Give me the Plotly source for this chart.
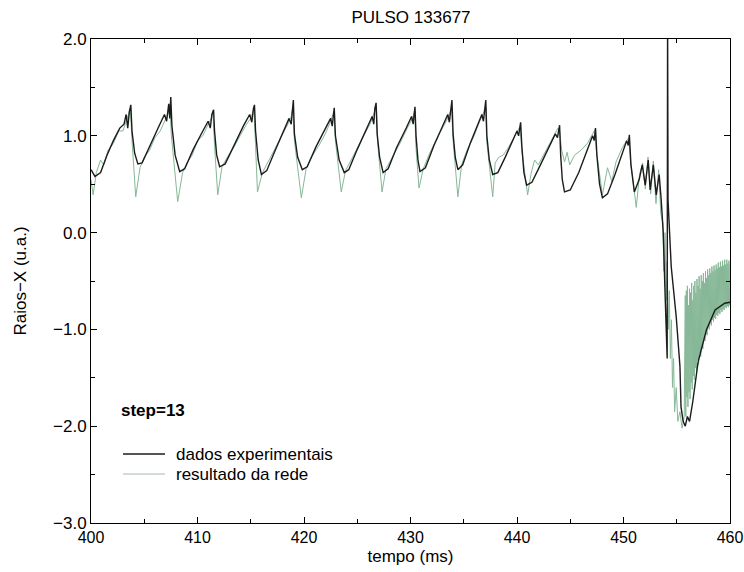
import plotly.graph_objects as go

# ---------------- data ----------------
t_exp = [400.0, 400.37, 400.9, 401.5, 402.1, 402.7, 403.1, 403.3, 403.45, 403.6, 403.74, 403.85,
         404.1, 404.4, 404.8, 405.5, 406.3, 406.9, 407.1, 407.3, 407.4, 407.49, 407.6,
         407.9, 408.33, 408.8, 409.6, 410.5, 411.0, 411.2, 411.35, 411.51, 411.6,
         411.8, 412.08, 412.6, 413.4, 414.3, 414.9, 415.1, 415.25, 415.35, 415.45,
         415.7, 416.0, 416.5, 417.3, 418.2, 418.6, 418.8, 418.9, 419.0, 419.1,
         419.4, 419.84, 420.3, 421.1, 422.0, 422.5, 422.65, 422.75, 422.84, 422.95,
         423.3, 423.78, 424.2, 425.0, 425.9, 426.4, 426.55, 426.65, 426.77, 426.87,
         427.1, 427.43, 427.9, 428.7, 429.6, 430.1, 430.25, 430.35, 430.42, 430.52,
         430.7, 430.89, 431.4, 432.2, 433.0, 433.5, 433.65, 433.78, 433.89, 434.0,
         434.2, 434.45, 434.9, 435.6, 436.3, 436.7, 436.85, 436.97, 437.07, 437.17,
         437.4, 437.72, 438.2, 438.9, 439.6, 440.0, 440.15, 440.25, 440.34, 440.45,
         440.65, 440.9, 441.4, 442.2, 443.0, 443.6, 443.8, 443.9, 444.0, 444.1,
         444.25, 444.46, 445.0, 445.8, 446.6, 447.1, 447.25, 447.37, 447.5,
         447.75, 448.02, 448.5, 449.2, 449.9, 450.3, 450.45, 450.55, 450.7,
         451.02, 451.48, 451.76, 452.04, 452.32, 452.5, 452.8, 453.07, 453.35, 453.54,
         453.73, 453.92, 454.1, 454.14, 454.18,
         454.48, 454.95, 455.3, 455.4, 455.6, 455.8, 456.0, 456.2, 456.5, 457.0, 457.3,
         457.8, 458.6, 459.5, 460.0]
v_exp = [0.65, 0.58, 0.62, 0.80, 0.95, 1.08, 1.12, 1.22, 1.08, 1.25, 1.32, 1.05,
         0.82, 0.71, 0.72, 0.88, 1.08, 1.22, 1.15, 1.33, 1.18, 1.40, 1.10,
         0.80, 0.63, 0.66, 0.86, 1.05, 1.15, 1.08, 1.22, 1.27, 1.05,
         0.80, 0.68, 0.71, 0.90, 1.10, 1.22, 1.14, 1.28, 1.32, 1.05,
         0.75, 0.60, 0.64, 0.85, 1.08, 1.18, 1.12, 1.30, 1.37, 1.02,
         0.78, 0.65, 0.68, 0.88, 1.08, 1.18, 1.10, 1.25, 1.29, 1.00,
         0.75, 0.62, 0.65, 0.86, 1.08, 1.20, 1.12, 1.28, 1.34, 1.02,
         0.78, 0.62, 0.66, 0.88, 1.08, 1.20, 1.12, 1.26, 1.30, 1.00,
         0.75, 0.63, 0.67, 0.90, 1.10, 1.22, 1.14, 1.30, 1.37, 1.02,
         0.78, 0.65, 0.70, 0.92, 1.12, 1.22, 1.15, 1.30, 1.37, 1.00,
         0.75, 0.60, 0.62, 0.78, 0.95, 1.05, 1.00, 1.10, 1.14, 0.90,
         0.62, 0.49, 0.52, 0.70, 0.88, 1.02, 0.98, 1.08, 1.11, 0.80,
         0.55, 0.42, 0.44, 0.62, 0.85, 1.00, 0.95, 1.08, 0.80,
         0.50, 0.36, 0.40, 0.60, 0.82, 0.95, 0.90, 1.01, 0.70,
         0.42, 0.55, 0.70, 0.49, 0.75, 0.44, 0.70, 0.39, 0.60, 0.34,
         0.0, -0.69, -1.3, 2.3, 0.34,
         -0.35, -0.87, -1.38, -1.8, -1.95, -2.0, -1.9, -1.95, -1.75, -1.34, -1.21,
         -1.0, -0.8, -0.73, -0.72]

# network output: sawtooth part
t_net = [400.0, 400.2, 400.5, 400.9, 401.2, 401.6, 402.1, 402.6, 403.0, 403.3, 403.55, 403.7, 403.85,
         404.2, 404.6, 405.0, 405.5, 406.0, 406.5, 406.9, 407.2, 407.4, 407.55,
         408.14, 408.6, 409.0, 409.5, 410.0, 410.5, 411.0, 411.3, 411.45, 411.6,
         411.9, 412.3, 412.8, 413.4, 414.0, 414.6, 415.0, 415.3, 415.45,
         415.63, 416.1, 416.6, 417.2, 417.8, 418.4, 418.8, 418.95, 419.1,
         419.75, 420.2, 420.7, 421.4, 422.0, 422.5, 422.8, 422.95,
         423.5, 423.9, 424.4, 425.0, 425.7, 426.2, 426.6, 426.8, 426.9,
         427.33, 427.7, 428.3, 429.0, 429.7, 430.2, 430.4, 430.5,
         430.8, 431.2, 431.8, 432.5, 433.2, 433.6, 433.85, 434.0,
         434.45, 434.8, 435.3, 435.9, 436.5, 436.9, 437.05, 437.15,
         437.72, 437.95, 438.3, 438.7, 439.2, 439.7, 440.1, 440.3, 440.45,
         441.0, 441.3, 441.65, 442.0, 442.5, 443.0, 443.5, 443.85, 444.0,
         444.2, 444.46, 444.7, 444.95, 445.4, 446.0, 446.6, 447.0, 447.3, 447.45,
         447.8, 448.02, 448.5, 448.9, 449.3, 449.9, 450.3, 450.5, 450.65,
         451.2, 451.5, 451.8, 452.05, 452.3, 452.55, 452.8, 453.05, 453.3, 453.5,
         453.7, 453.8, 453.9, 454.0, 454.1, 454.2, 454.3, 454.4, 454.5, 454.6,
         454.7, 454.8, 454.95, 455.1, 455.3, 455.5, 455.7]
v_net = [0.55, 0.39, 0.62, 0.75, 0.70, 0.85, 0.92, 1.05, 1.05, 1.15, 1.22, 1.28, 0.95,
         0.37, 0.67, 0.78, 0.85, 0.98, 1.05, 1.15, 1.22, 1.30, 1.00,
         0.32, 0.62, 0.72, 0.80, 0.95, 1.00, 1.12, 1.18, 1.25, 0.90,
         0.39, 0.68, 0.78, 0.88, 1.00, 1.12, 1.18, 1.28, 0.90,
         0.42, 0.62, 0.72, 0.85, 0.98, 1.10, 1.20, 1.30, 0.95,
         0.36, 0.66, 0.78, 0.90, 1.02, 1.15, 1.25, 0.95,
         0.42, 0.64, 0.75, 0.88, 1.02, 1.12, 1.25, 1.30, 0.95,
         0.42, 0.66, 0.78, 0.92, 1.08, 1.18, 1.27, 0.90,
         0.46, 0.66, 0.82, 0.98, 1.12, 1.20, 1.30, 0.95,
         0.37, 0.70, 0.85, 0.98, 1.15, 1.25, 1.32, 0.95,
         0.37, 0.72, 0.78, 0.80, 0.88, 0.98, 1.05, 1.10, 0.85,
         0.39, 0.60, 0.75, 0.70, 0.80, 0.90, 1.00, 1.08, 1.05,
         0.85, 0.73, 0.83, 0.70, 0.80, 0.85, 0.92, 1.00, 1.06, 0.85,
         0.55, 0.39, 0.67, 0.53, 0.73, 0.88, 0.95, 0.98, 0.75,
         0.26, 0.60, 0.72, 0.45, 0.78, 0.40, 0.74, 0.30, 0.65, 0.20,
         0.10, -0.40, 0.00, -0.70, -0.30, -1.00, -0.60, -1.30, -0.90, -1.60,
         -1.30, -1.85, -1.60, -1.95, -1.85, -2.02, -1.90]

# network output: noisy band after the disruption
t_net_tail = [455.80, 455.85, 455.90, 455.95, 456.00, 456.05, 456.10, 456.15, 456.20, 456.25,
              456.30, 456.35, 456.40, 456.45, 456.50, 456.55, 456.60, 456.65, 456.70, 456.75,
              456.80, 456.85, 456.90, 456.95, 457.00, 457.05, 457.10, 457.15, 457.20, 457.25,
              457.30, 457.35, 457.40, 457.45, 457.50, 457.55, 457.60, 457.65, 457.70, 457.75,
              457.80, 457.85, 457.90, 457.95, 458.00, 458.05, 458.10, 458.15, 458.20, 458.25,
              458.30, 458.35, 458.40, 458.45, 458.50, 458.55, 458.60, 458.65, 458.70, 458.75,
              458.80, 458.85, 458.90, 458.95, 459.00, 459.05, 459.10, 459.15, 459.20, 459.25,
              459.30, 459.35, 459.40, 459.45, 459.50, 459.55, 459.60, 459.65, 459.70, 459.75,
              459.80, 459.85, 459.90, 459.95, 460.00]
v_net_tail = [-0.65, -1.90, -0.60, -1.70, -0.55, -1.80, -0.75, -1.65, -0.58, -1.72,
              -0.62, -1.55, -0.52, -1.62, -0.70, -1.48, -0.55, -1.52, -0.50, -1.40,
              -0.62, -1.45, -0.48, -1.32, -0.55, -1.36, -0.45, -1.25, -0.58, -1.28,
              -0.44, -1.18, -0.50, -1.20, -0.42, -1.10, -0.52, -1.12, -0.40, -1.05,
              -0.47, -1.06, -0.38, -0.98, -0.44, -1.00, -0.37, -0.94, -0.42, -0.96,
              -0.35, -0.90, -0.40, -0.92, -0.34, -0.88, -0.39, -0.89, -0.33, -0.85,
              -0.37, -0.86, -0.31, -0.83, -0.36, -0.84, -0.30, -0.80, -0.35, -0.82,
              -0.29, -0.79, -0.34, -0.80, -0.28, -0.77, -0.33, -0.78, -0.28, -0.76,
              -0.32, -0.77, -0.29, -0.75, -0.33]

x_ticks = [400, 410, 420, 430, 440, 450, 460]
x_minor = [405, 415, 425, 435, 445, 455]
y_ticks = [2.0, 1.0, 0.0, -1.0, -2.0, -3.0]
y_minor = [1.5, 0.5, -0.5, -1.5, -2.5]
title_text = "PULSO 133677"
x_title = "tempo (ms)"
y_title = "Raios\u2212X (u.a.)"
label_exp = "dados experimentais"
label_net = "resultado da rede"
step_text = "<b>step=13</b>"

FONT = "Liberation Sans, Arial, Helvetica, sans-serif"
FS = 17
COL_EXP = "#1c1c1c"
COL_NET = "#86b897"

fig = go.Figure()
fig.add_trace(go.Scatter(x=t_net + t_net_tail, y=v_net + v_net_tail, mode="lines", name=label_net,
                         showlegend=False, line=dict(color=COL_NET, width=1.0)))
fig.add_trace(go.Scatter(x=t_exp, y=v_exp, mode="lines", name=label_exp,
                         showlegend=False, line=dict(color=COL_EXP, width=1.4)))

W, H = 744, 572
L, R, T, B = 91, 14, 39, 49
pw, ph = W - L - R, H - T - B

def px_x(px):
    return (px - L) / pw

def px_y(py):
    return (H - B - py) / ph

# legend drawn as key lines + labels (positions in paper space)
legend_rows = [(label_exp, COL_EXP, 454, 1.4), (label_net, "#a9b9ad", 474, 1.2)]
shapes = []
annotations = [dict(text=step_text, x=px_x(119), y=px_y(410), xref="paper", yref="paper",
                    xanchor="left", yanchor="middle", showarrow=False, font=dict(size=FS))]
for text, col, ypx, lw in legend_rows:
    shapes.append(dict(type="line", xref="paper", yref="paper",
                       x0=px_x(123), x1=px_x(165), y0=px_y(ypx), y1=px_y(ypx),
                       line=dict(color=col, width=lw)))
    annotations.append(dict(text=text, x=px_x(174), y=px_y(ypx), xref="paper", yref="paper",
                            xanchor="left", yanchor="middle", showarrow=False,
                            font=dict(size=FS)))

fig.update_layout(
    width=W, height=H,
    margin=dict(l=L, r=R, t=T, b=B),
    paper_bgcolor="white", plot_bgcolor="white",
    font=dict(family=FONT, size=FS, color="black"),
    title=dict(text=title_text, x=411 / W, xanchor="center",
               y=1 - 17 / H, yanchor="middle", font=dict(size=FS)),
    showlegend=False,
    shapes=shapes,
    annotations=annotations,
)
fig.update_xaxes(range=[400, 460], tickvals=x_ticks, ticktext=[str(v) for v in x_ticks],
                 ticks="inside", ticklen=6, tickwidth=1, tickcolor="black",
                 minor=dict(tickvals=x_minor, ticks="inside", ticklen=4, tickcolor="black"),
                 showline=True, linecolor="black", linewidth=1, mirror="ticks",
                 showgrid=False, zeroline=False, automargin=False,
                 tickfont=dict(size=16),
                 title=dict(text=x_title, standoff=4, font=dict(size=FS)))
fig.update_yaxes(range=[-3, 2], tickvals=y_ticks, tickformat=".1f",
                 ticks="inside", ticklen=6, tickwidth=1, tickcolor="black",
                 minor=dict(tickvals=y_minor, ticks="inside", ticklen=4, tickcolor="black"),
                 showline=True, linecolor="black", linewidth=1, mirror="ticks",
                 showgrid=False, zeroline=False, automargin=False,
                 tickfont=dict(size=FS),
                 title=dict(text=y_title, standoff=22, font=dict(size=FS)))

fig.write_html("out.html")
